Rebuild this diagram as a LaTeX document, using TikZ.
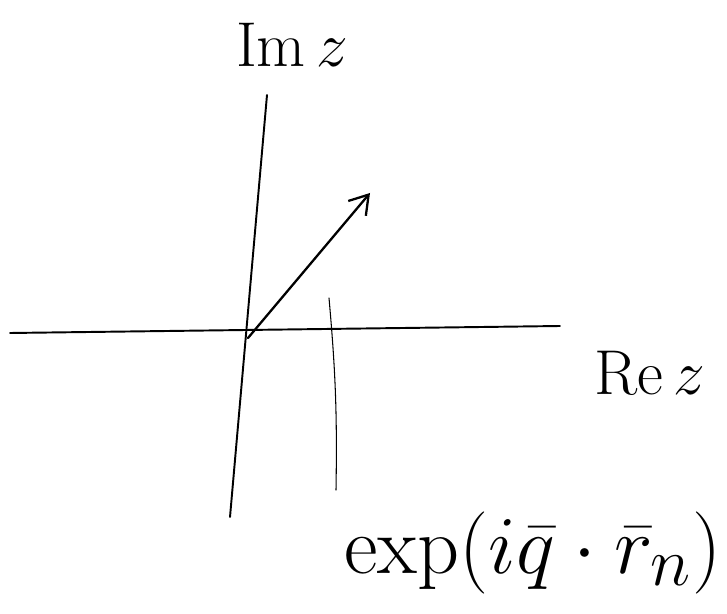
\documentclass[tikz,border=0pt]{standalone}
\usepackage{amsmath,amssymb}
\usepackage{tikz}
\usetikzlibrary{arrows.meta,positioning,calc}

\begin{document}
\begin{tikzpicture}[
    axis/.style={line width=1.1pt, line cap=round},
    guide/.style={line width=0.6pt, line cap=round},
    lbl/.style={inner sep=0pt, font=\Huge, scale=1.45, transform shape},
    big/.style={inner sep=0pt, font=\Huge, scale=1.88, transform shape},
    arr/.style={-{Straight Barb[length=3.6mm, width=4.6mm]}, line width=1.3pt, line cap=round}]
  \useasboundingbox (0,0) rectangle (14.54,12.26);
  \coordinate (O) at (4.96,5.50);
  \coordinate (xl) at (0.20,5.60);
  \coordinate (xr) at (11.20,5.74);
  \coordinate (yt) at (5.34,10.36);
  \coordinate (yb) at (4.60,1.92);
  \coordinate (tip) at (7.40,8.40);
  \coordinate (gt) at (6.58,6.30);
  \coordinate (gb) at (6.72,2.46);
  \node[lbl] (im) at (5.84,11.36) {$\mathrm{Im}\,z$};
  \node[lbl] (re) at (13.00,4.80) {$\mathrm{Re}\,z$};
  \node[big] (ex) at (10.66,1.20) {$\exp(i\bar{q}\cdot\bar{r}_n)$};
  \draw[axis] (xl) -- (xr);
  \draw[axis] (yb) -- (yt);
  \draw[arr] (O) -- (tip);
  \draw[guide] (gt) to[bend left=3] (gb);
\end{tikzpicture}
\end{document}
